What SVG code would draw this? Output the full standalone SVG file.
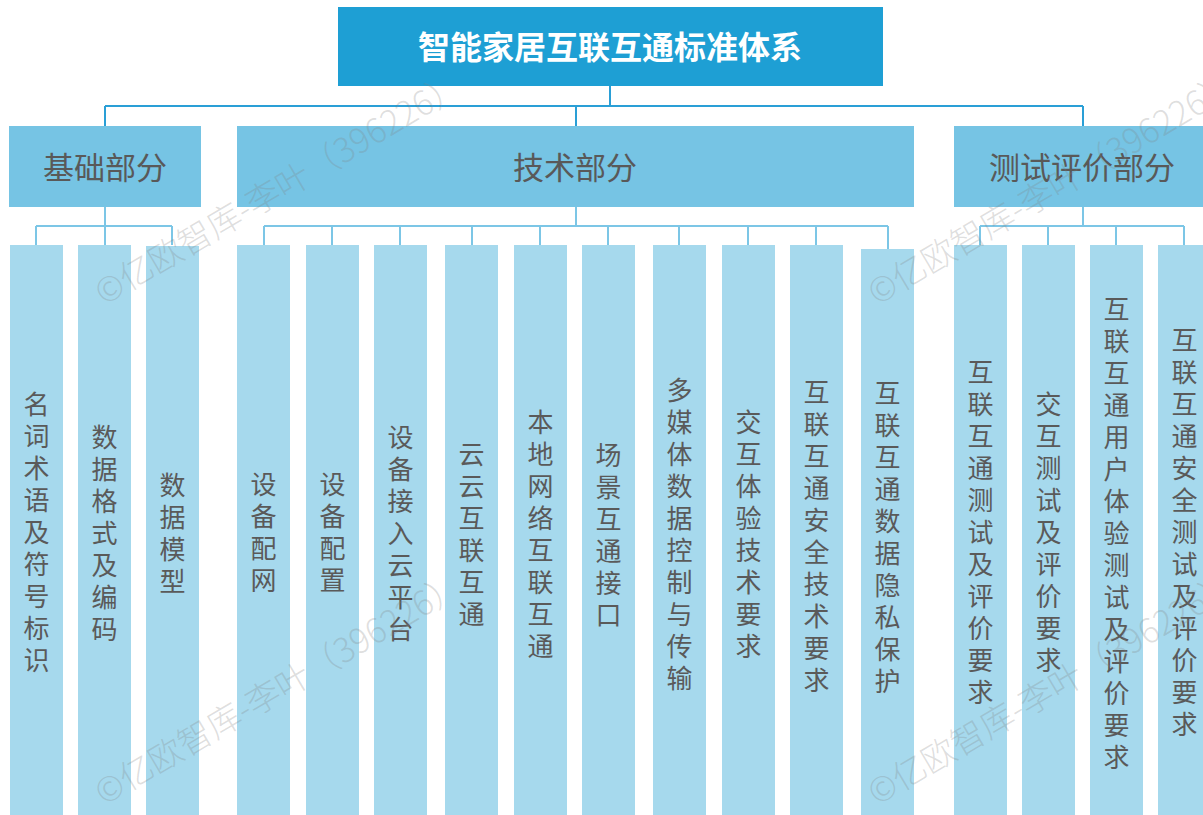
<svg xmlns="http://www.w3.org/2000/svg" width="1203" height="815" viewBox="0 0 1203 815">
<style>
.title{fill:#1e9fd4}
.cat{fill:#76c4e4}
.leaf{fill:#a6d9ed}
.tt{font-family:"Noto Sans CJK SC","Noto Sans",sans-serif;font-size:32px;font-weight:bold;fill:#fff;text-anchor:middle;dominant-baseline:central}
.ct{font-family:"Noto Sans CJK SC","Noto Sans",sans-serif;font-size:31px;fill:#595959;text-anchor:middle;dominant-baseline:central}
.lt{font-family:"Noto Sans CJK SC","Noto Sans",sans-serif;font-size:26px;fill:#5a5a5a;text-anchor:middle;dominant-baseline:central}
.c1{stroke:#2a9fd6;stroke-width:2;fill:none}
.c2{stroke:#7cc6e6;stroke-width:2;fill:none}
.wm{font-family:"Noto Sans CJK SC","Noto Sans",sans-serif;font-size:34px;font-weight:300;fill:#808080;fill-opacity:0.26}
</style>
<rect width="1203" height="815" fill="#fff"/>
<g id="connectors">
<path class="c1" d="M610 86V106M105 106H1083M105 106V126M576 106V126M1083 106V126"/>
<path class="c2" d="M105 207V226M36 226H172M36 226V245M105 226V245M172 226V245"/>
<path class="c2" d="M576 207V226M264 226H888M264 226V245M332 226V245M400 226V245M472 226V245M540 226V245M608 226V245M679 226V245M748 226V245M816 226V245M888 226V249"/>
<path class="c2" d="M1083 207V226M980 226H1184M980 226V245M1048 226V245M1116 226V245M1184 226V245"/>
</g>
<g id="root"><rect class="title" x="338" y="7" width="545" height="79"/><text class="tt" x="610" y="45">智能家居互联互通标准体系</text></g>
<g id="cat-basic"><rect class="cat" x="9" y="126" width="192" height="81"/><text class="ct" x="105" y="165">基础部分</text></g>
<g id="cat-tech"><rect class="cat" x="237" y="126" width="677" height="81"/><text class="ct" x="575" y="165">技术部分</text></g>
<g id="cat-test"><rect class="cat" x="954" y="126" width="249" height="81"/><text class="ct" x="1082" y="165">测试评价部分</text></g>

<g id="leaf1"><rect class="leaf" x="10" y="245" width="53" height="570"/><text class="lt"><tspan x="36.5" y="402">名</tspan><tspan x="36.5" y="434">词</tspan><tspan x="36.5" y="466">术</tspan><tspan x="36.5" y="498">语</tspan><tspan x="36.5" y="530">及</tspan><tspan x="36.5" y="562">符</tspan><tspan x="36.5" y="594">号</tspan><tspan x="36.5" y="626">标</tspan><tspan x="36.5" y="658">识</tspan></text></g>
<g id="leaf2"><rect class="leaf" x="78" y="245" width="53" height="570"/><text class="lt"><tspan x="104.5" y="435">数</tspan><tspan x="104.5" y="467">据</tspan><tspan x="104.5" y="499">格</tspan><tspan x="104.5" y="531">式</tspan><tspan x="104.5" y="563">及</tspan><tspan x="104.5" y="595">编</tspan><tspan x="104.5" y="627">码</tspan></text></g>
<g id="leaf3"><rect class="leaf" x="146" y="246" width="53" height="569"/><text class="lt"><tspan x="172.5" y="483">数</tspan><tspan x="172.5" y="515">据</tspan><tspan x="172.5" y="547">模</tspan><tspan x="172.5" y="579">型</tspan></text></g>

<g id="leaf4"><rect class="leaf" x="237" y="245" width="53" height="570"/><text class="lt"><tspan x="263.5" y="482">设</tspan><tspan x="263.5" y="514">备</tspan><tspan x="263.5" y="546">配</tspan><tspan x="263.5" y="578">网</tspan></text></g>
<g id="leaf5"><rect class="leaf" x="306" y="245" width="53" height="570"/><text class="lt"><tspan x="332.5" y="482">设</tspan><tspan x="332.5" y="514">备</tspan><tspan x="332.5" y="546">配</tspan><tspan x="332.5" y="578">置</tspan></text></g>
<g id="leaf6"><rect class="leaf" x="374" y="245" width="53" height="570"/><text class="lt"><tspan x="400.5" y="435">设</tspan><tspan x="400.5" y="467">备</tspan><tspan x="400.5" y="499">接</tspan><tspan x="400.5" y="531">入</tspan><tspan x="400.5" y="563">云</tspan><tspan x="400.5" y="595">平</tspan><tspan x="400.5" y="627">台</tspan></text></g>
<g id="leaf7"><rect class="leaf" x="445" y="245" width="53" height="570"/><text class="lt"><tspan x="471.5" y="452">云</tspan><tspan x="471.5" y="484">云</tspan><tspan x="471.5" y="516">互</tspan><tspan x="471.5" y="548">联</tspan><tspan x="471.5" y="580">互</tspan><tspan x="471.5" y="612">通</tspan></text></g>
<g id="leaf8"><rect class="leaf" x="514" y="245" width="53" height="570"/><text class="lt"><tspan x="540.5" y="420">本</tspan><tspan x="540.5" y="452">地</tspan><tspan x="540.5" y="484">网</tspan><tspan x="540.5" y="516">络</tspan><tspan x="540.5" y="548">互</tspan><tspan x="540.5" y="580">联</tspan><tspan x="540.5" y="612">互</tspan><tspan x="540.5" y="644">通</tspan></text></g>
<g id="leaf9"><rect class="leaf" x="582" y="245" width="53" height="570"/><text class="lt"><tspan x="608.5" y="453">场</tspan><tspan x="608.5" y="485">景</tspan><tspan x="608.5" y="517">互</tspan><tspan x="608.5" y="549">通</tspan><tspan x="608.5" y="581">接</tspan><tspan x="608.5" y="613">口</tspan></text></g>
<g id="leaf10"><rect class="leaf" x="653" y="245" width="53" height="570"/><text class="lt"><tspan x="679.5" y="388">多</tspan><tspan x="679.5" y="420">媒</tspan><tspan x="679.5" y="452">体</tspan><tspan x="679.5" y="484">数</tspan><tspan x="679.5" y="516">据</tspan><tspan x="679.5" y="548">控</tspan><tspan x="679.5" y="580">制</tspan><tspan x="679.5" y="612">与</tspan><tspan x="679.5" y="644">传</tspan><tspan x="679.5" y="676">输</tspan></text></g>
<g id="leaf11"><rect class="leaf" x="722" y="245" width="53" height="570"/><text class="lt"><tspan x="748.5" y="420">交</tspan><tspan x="748.5" y="452">互</tspan><tspan x="748.5" y="484">体</tspan><tspan x="748.5" y="516">验</tspan><tspan x="748.5" y="548">技</tspan><tspan x="748.5" y="580">术</tspan><tspan x="748.5" y="612">要</tspan><tspan x="748.5" y="644">求</tspan></text></g>
<g id="leaf12"><rect class="leaf" x="790" y="245" width="53" height="570"/><text class="lt"><tspan x="816.5" y="390">互</tspan><tspan x="816.5" y="422">联</tspan><tspan x="816.5" y="454">互</tspan><tspan x="816.5" y="486">通</tspan><tspan x="816.5" y="518">安</tspan><tspan x="816.5" y="550">全</tspan><tspan x="816.5" y="582">技</tspan><tspan x="816.5" y="614">术</tspan><tspan x="816.5" y="646">要</tspan><tspan x="816.5" y="678">求</tspan></text></g>
<g id="leaf13"><rect class="leaf" x="861" y="249" width="53" height="566"/><text class="lt"><tspan x="887.5" y="391">互</tspan><tspan x="887.5" y="423">联</tspan><tspan x="887.5" y="455">互</tspan><tspan x="887.5" y="487">通</tspan><tspan x="887.5" y="519">数</tspan><tspan x="887.5" y="551">据</tspan><tspan x="887.5" y="583">隐</tspan><tspan x="887.5" y="615">私</tspan><tspan x="887.5" y="647">保</tspan><tspan x="887.5" y="679">护</tspan></text></g>

<g id="leaf14"><rect class="leaf" x="954" y="245" width="53" height="570"/><text class="lt"><tspan x="980.5" y="370">互</tspan><tspan x="980.5" y="402">联</tspan><tspan x="980.5" y="434">互</tspan><tspan x="980.5" y="466">通</tspan><tspan x="980.5" y="498">测</tspan><tspan x="980.5" y="530">试</tspan><tspan x="980.5" y="562">及</tspan><tspan x="980.5" y="594">评</tspan><tspan x="980.5" y="626">价</tspan><tspan x="980.5" y="658">要</tspan><tspan x="980.5" y="690">求</tspan></text></g>
<g id="leaf15"><rect class="leaf" x="1022" y="245" width="53" height="570"/><text class="lt"><tspan x="1048.5" y="402">交</tspan><tspan x="1048.5" y="434">互</tspan><tspan x="1048.5" y="466">测</tspan><tspan x="1048.5" y="498">试</tspan><tspan x="1048.5" y="530">及</tspan><tspan x="1048.5" y="562">评</tspan><tspan x="1048.5" y="594">价</tspan><tspan x="1048.5" y="626">要</tspan><tspan x="1048.5" y="658">求</tspan></text></g>
<g id="leaf16"><rect class="leaf" x="1090" y="245" width="53" height="570"/><text class="lt"><tspan x="1116.5" y="307">互</tspan><tspan x="1116.5" y="339">联</tspan><tspan x="1116.5" y="371">互</tspan><tspan x="1116.5" y="403">通</tspan><tspan x="1116.5" y="435">用</tspan><tspan x="1116.5" y="467">户</tspan><tspan x="1116.5" y="499">体</tspan><tspan x="1116.5" y="531">验</tspan><tspan x="1116.5" y="563">测</tspan><tspan x="1116.5" y="595">试</tspan><tspan x="1116.5" y="627">及</tspan><tspan x="1116.5" y="659">评</tspan><tspan x="1116.5" y="691">价</tspan><tspan x="1116.5" y="723">要</tspan><tspan x="1116.5" y="755">求</tspan></text></g>
<g id="leaf17"><rect class="leaf" x="1158" y="245" width="53" height="570"/><text class="lt"><tspan x="1184.5" y="338">互</tspan><tspan x="1184.5" y="370">联</tspan><tspan x="1184.5" y="402">互</tspan><tspan x="1184.5" y="434">通</tspan><tspan x="1184.5" y="466">安</tspan><tspan x="1184.5" y="498">全</tspan><tspan x="1184.5" y="530">测</tspan><tspan x="1184.5" y="562">试</tspan><tspan x="1184.5" y="594">及</tspan><tspan x="1184.5" y="626">评</tspan><tspan x="1184.5" y="658">价</tspan><tspan x="1184.5" y="690">要</tspan><tspan x="1184.5" y="722">求</tspan></text></g>

<g id="watermarks">
<text class="wm" transform="translate(104 306) rotate(-30.6)">©亿欧智库-李叶（396226）</text>
<text class="wm" transform="translate(104 806) rotate(-30.6)">©亿欧智库-李叶（396226）</text>
<text class="wm" transform="translate(877 306) rotate(-30.6)">©亿欧智库-李叶（396226）</text>
<text class="wm" transform="translate(877 806) rotate(-30.6)">©亿欧智库-李叶（396226）</text>
</g>
</svg>
